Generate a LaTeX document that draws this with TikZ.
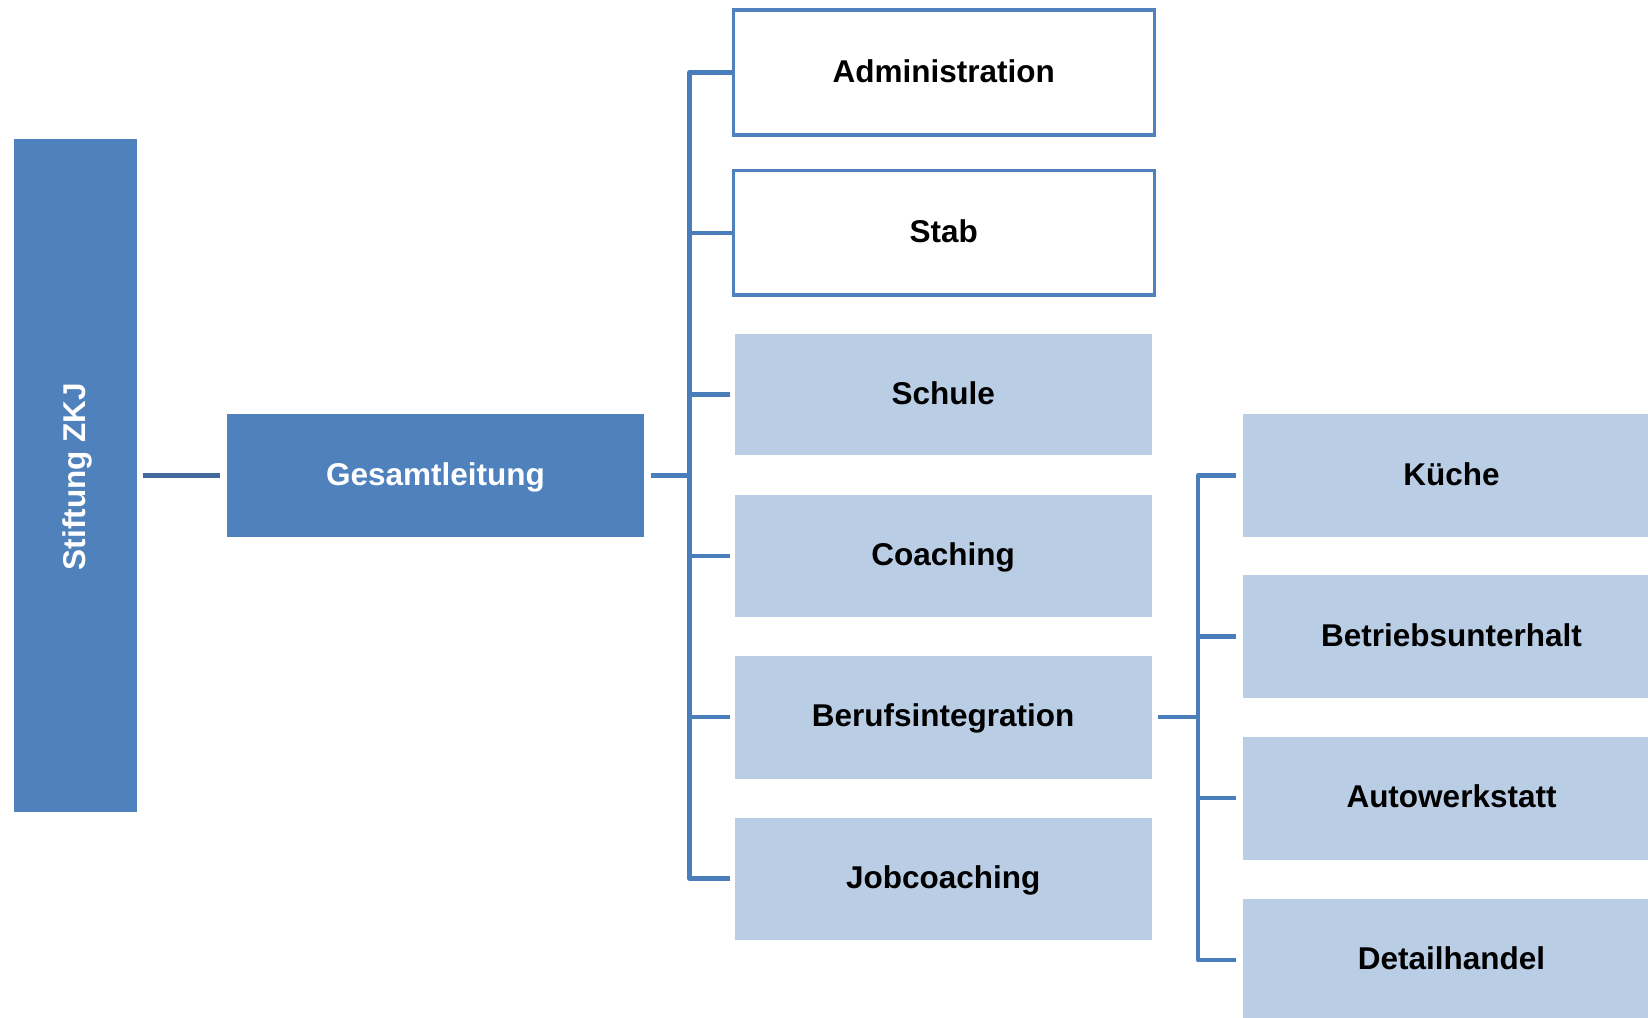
\documentclass[tikz,border=0pt]{standalone}
\usepackage{fontspec}
\setmainfont{Liberation Sans}
\definecolor{darkbox}{HTML}{4F81BD}
\definecolor{lightbox}{HTML}{B9CDE5}
\definecolor{conncol}{HTML}{4A7EBB}
\definecolor{conndark}{HTML}{41699B}
\tikzset{
  lbl/.style={font=\fontsize{31.5}{37}\selectfont\bfseries, text height=23pt, text depth=4pt},
  darkstyle/.style={rectangle, fill=darkbox, inner sep=0pt, text=white, lbl},
  whitestyle/.style={rectangle, draw=darkbox, line width=3.5pt, fill=white, inner sep=0pt, text=black, lbl,
     minimum width=421pt, minimum height=124.7pt},
  lightstyle/.style={rectangle, fill=lightbox, inner sep=0pt, text=black, lbl, minimum width=417pt},
  conn/.style={draw=conncol, line width=4.3pt, line join=round},
}
\begin{document}
\begin{tikzpicture}[x=1pt,y=-1pt]
\useasboundingbox (0,0) rectangle (1648,1017);
\clip (0,0) rectangle (1648,1017);
% nodes
\node[darkstyle, minimum width=123pt, minimum height=673pt] (stiftung) at (75.2,475) {};
\node[text=white, lbl, rotate=90, inner sep=0pt] (stiftungtxt) at (75.5,476.5) {Stiftung ZKJ};
\node[darkstyle, minimum width=417pt, minimum height=123pt] (gesamt) at (435.5,475.5) {Gesamtleitung};
\node[whitestyle] (admin) at (943.8,72.5) {Administration};
\node[whitestyle] (stab) at (943.8,232.8) {Stab};
\node[lightstyle, minimum height=121pt] (schule) at (943.2,394.6) {Schule};
\node[lightstyle, minimum height=122pt] (coaching) at (943.2,556) {Coaching};
\node[lightstyle, minimum height=123pt] (beruf) at (943.2,717.3) {Berufsintegration};
\node[lightstyle, minimum height=122pt] (job) at (943.2,878.6) {Jobcoaching};
\node[lightstyle, minimum height=123pt] (kueche) at (1451.5,475.5) {Küche};
\node[lightstyle, minimum height=123pt] (betrieb) at (1451.5,636.5) {Betriebsunterhalt};
\node[lightstyle, minimum height=123pt] (auto) at (1451.5,798.2) {Autowerkstatt};
\node[lightstyle, minimum height=123pt] (detail) at (1451.5,960) {Detailhandel};
% bus coordinates
\coordinate (b1) at (689.5,475.5);
\coordinate (b2) at (1198,717.3);
% connectors
\draw[conn, draw=conndark, shorten <=6.5pt, shorten >=6.5pt] (stiftung.east |- gesamt.west) -- (gesamt.west);
\draw[conn, shorten <=6.6pt] (gesamt.east) -- (b1);
\draw[conn, shorten >=5pt] (admin.west) -| (b1) |- (job.west);
\draw[conn] (b1 |- stab.west) -- (stab.west);
\draw[conn, shorten >=5pt] (b1 |- schule.west) -- (schule.west);
\draw[conn, shorten >=5pt] (b1 |- coaching.west) -- (coaching.west);
\draw[conn, shorten >=5pt] (b1 |- beruf.west) -- (beruf.west);
\draw[conn, shorten <=6.3pt] (beruf.east) -- (b2);
\draw[conn, shorten <=7pt, shorten >=7pt] (kueche.west) -| (b2) |- (detail.west);
\draw[conn, shorten >=7pt] (b2 |- betrieb.west) -- (betrieb.west);
\draw[conn, shorten >=7pt] (b2 |- auto.west) -- (auto.west);
\end{tikzpicture}
\end{document}
